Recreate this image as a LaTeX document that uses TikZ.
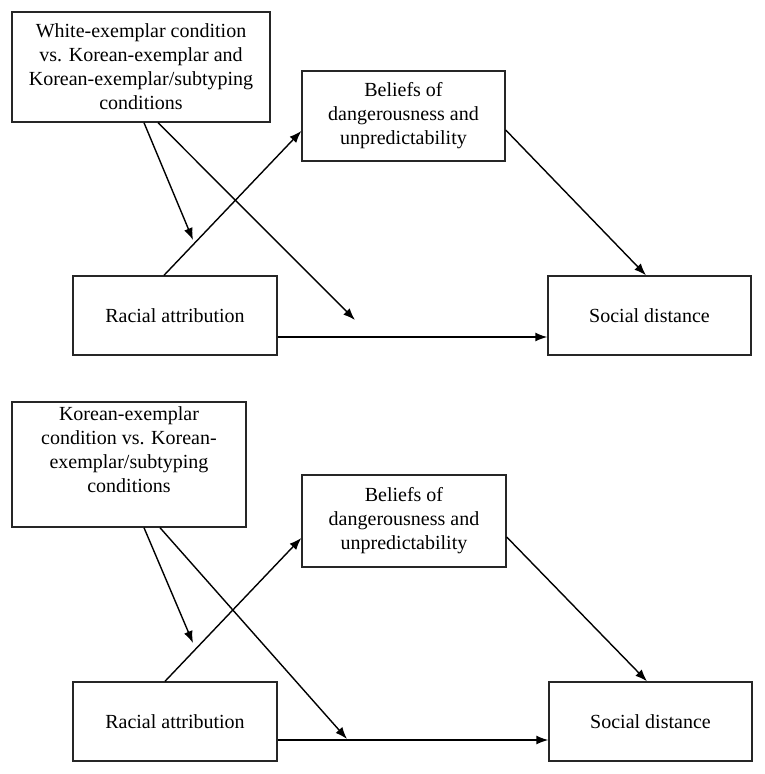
\documentclass[tikz,border=0pt]{standalone}
\usepackage{fontspec}
\setmainfont{Liberation Serif}
\usetikzlibrary{arrows.meta}
\begin{document}
\begin{tikzpicture}[x=1pt,y=-1pt,
  box/.style={draw=black!85, line width=1.4pt, rectangle, inner sep=0pt, align=center,
    font=\fontsize{20}{24}\selectfont},
  arr/.style={line width=1.4pt, -{Latex[length=12pt,width=9pt]}}]
\useasboundingbox (0,0) rectangle (764,774);
% top panel
\node[box, minimum width=258pt, minimum height=110pt] (A1) at (141,67)
  {White-exemplar condition\\vs. Korean-exemplar and\\Korean-exemplar/subtyping\\conditions};
\node[box, minimum width=203pt, minimum height=90pt] (B1) at (403.5,116)
  {Beliefs of\\dangerousness and\\unpredictability};
\node[box, minimum width=204pt, minimum height=79pt] (C1) at (175,315.5) {Racial attribution};
\node[box, minimum width=203pt, minimum height=79pt] (D1) at (649.5,315.5) {Social distance};
\coordinate (m1) at (193,240);
\coordinate (m2) at (355,320);
\draw[arr] ([xshift=-11pt]C1.north) -- ([yshift=-15pt]B1.west);
\draw[arr] ([yshift=-14pt]B1.east) -- ([xshift=-3.5pt]D1.north);
\draw[arr] ([yshift=-21.5pt]C1.east) -- ([yshift=-21.5pt]D1.west);
\draw[arr] ([xshift=3pt]A1.south) -- (m1);
\draw[arr] ([xshift=17pt]A1.south) -- (m2);
% bottom panel
\node[box, minimum width=234pt, minimum height=125pt] (A2) at (129,464.5)
  {Korean-exemplar\\condition vs. Korean-\\exemplar/subtyping\\conditions\\[5pt]};
\node[box, minimum width=204pt, minimum height=92pt] (B2) at (404,521)
  {Beliefs of\\dangerousness and\\unpredictability};
\node[box, minimum width=204pt, minimum height=79pt] (C2) at (175,721.5) {Racial attribution};
\node[box, minimum width=203pt, minimum height=79pt] (D2) at (650.5,721.5) {Social distance};
\coordinate (m3) at (193,643);
\coordinate (m4) at (347,739);
\draw[arr] ([xshift=-10pt]C2.north) -- ([yshift=-17pt]B2.west);
\draw[arr] ([yshift=-16pt]B2.east) -- ([xshift=-3.5pt]D2.north);
\draw[arr] ([yshift=-18.5pt]C2.east) -- ([yshift=-18.5pt]D2.west);
\draw[arr] ([xshift=15pt]A2.south) -- (m3);
\draw[arr] ([xshift=31pt]A2.south) -- (m4);
\end{tikzpicture}
\end{document}
